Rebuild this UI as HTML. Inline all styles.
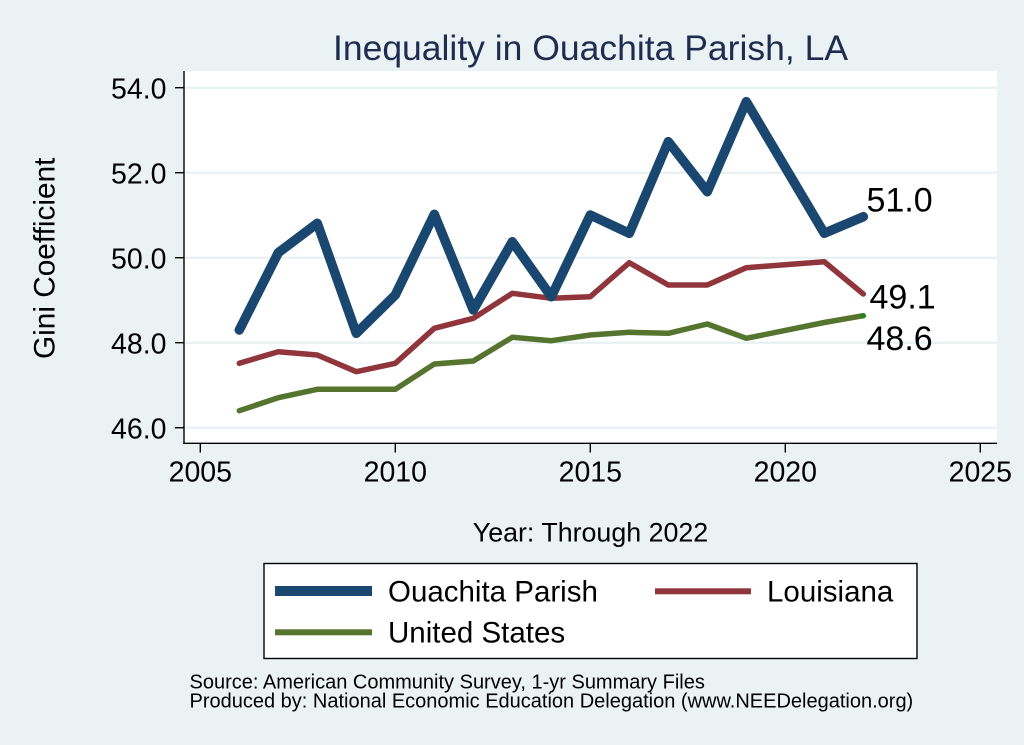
<!DOCTYPE html>
<html>
<head>
<meta charset="utf-8">
<style>
html,body{margin:0;padding:0;background:#eaf2f3;}
svg{display:block;}
text{font-family:"Liberation Sans",Arial,Helvetica,sans-serif;}
</style>
</head>
<body>
<svg width="1024" height="745" viewBox="0 0 1024 745" xmlns="http://www.w3.org/2000/svg">
  <rect x="0" y="0" width="1024" height="745" fill="#eaf2f3"/>
  <!-- plot region -->
  <rect x="184" y="71" width="813" height="372" fill="#ffffff"/>
  <!-- gridlines -->
  <g stroke="#e6eff1" stroke-width="2">
    <line x1="185" y1="87.7" x2="997" y2="87.7"/>
    <line x1="185" y1="172.7" x2="997" y2="172.7"/>
    <line x1="185" y1="257.7" x2="997" y2="257.7"/>
    <line x1="185" y1="342.7" x2="997" y2="342.7"/>
    <line x1="185" y1="427.7" x2="997" y2="427.7"/>
  </g>
  <!-- axes -->
  <g stroke="#000" stroke-width="1.4" fill="none">
    <line x1="184" y1="71" x2="184" y2="443.6"/>
    <line x1="183.3" y1="443.3" x2="997" y2="443.3"/>
    <!-- y ticks -->
    <line x1="175" y1="87.7" x2="184" y2="87.7"/>
    <line x1="175" y1="172.7" x2="184" y2="172.7"/>
    <line x1="175" y1="257.7" x2="184" y2="257.7"/>
    <line x1="175" y1="342.7" x2="184" y2="342.7"/>
    <line x1="175" y1="427.7" x2="184" y2="427.7"/>
    <!-- x ticks -->
    <line x1="200.3" y1="443" x2="200.3" y2="452.5"/>
    <line x1="395.3" y1="443" x2="395.3" y2="452.5"/>
    <line x1="590.3" y1="443" x2="590.3" y2="452.5"/>
    <line x1="785.3" y1="443" x2="785.3" y2="452.5"/>
    <line x1="980.3" y1="443" x2="980.3" y2="452.5"/>
  </g>
  <!-- y tick labels -->
  <g font-size="28.5" fill="#000" text-anchor="end">
    <text x="166.5" y="98.5">54.0</text>
    <text x="166.5" y="183.5">52.0</text>
    <text x="166.5" y="268.5">50.0</text>
    <text x="166.5" y="353.5">48.0</text>
    <text x="166.5" y="438.5">46.0</text>
  </g>
  <!-- x tick labels -->
  <g font-size="28.5" fill="#000" text-anchor="middle">
    <text x="200.3" y="481.7">2005</text>
    <text x="395.3" y="481.7">2010</text>
    <text x="590.3" y="481.7">2015</text>
    <text x="785.3" y="481.7">2020</text>
    <text x="980.3" y="481.7">2025</text>
  </g>
  <!-- axis titles -->
  <text x="590.5" y="541.7" font-size="26.8" text-anchor="middle" fill="#000">Year: Through 2022</text>
  <text transform="translate(54.5,258.3) rotate(-90)" font-size="29.8" text-anchor="middle" fill="#000">Gini Coefficient</text>
  <!-- title -->
  <text x="590.5" y="60" font-size="35.5" text-anchor="middle" fill="#1e2c50">Inequality in Ouachita Parish, LA</text>

  <!-- series -->
  <g fill="none" stroke-linejoin="round" stroke-linecap="round">
    <polyline stroke="#55752f" stroke-width="5.5" points="239.3,410.7 278.3,397.7 317.3,389.3 356.3,389.3 395.3,389.3 434.3,364 473.3,361 512.3,337.3 551.3,340.7 590.3,335 629.3,332.3 668.3,333.3 707.3,324 746.3,338.3 824.3,322.5 863.3,315.7"/>
    <polyline stroke="#90353b" stroke-width="5.5" points="239.3,363.3 278.3,351.7 317.3,355 356.3,371.7 395.3,363.3 434.3,328.3 473.3,318.3 512.3,293.3 551.3,298.3 590.3,296.7 629.3,262.7 668.3,285 707.3,285 746.3,267.7 824.3,261.7 863.3,294"/>
    <polyline stroke="#1a476f" stroke-width="9.5" points="239.3,330 278.3,252.7 317.3,223.3 356.3,333.3 395.3,295 434.3,214.3 473.3,310 512.3,241.7 551.3,296.7 590.3,215 629.3,233.3 668.3,141.7 707.3,191.7 746.3,101.7 824.3,233.3 863.3,216.7"/>
  </g>
  <circle cx="863.3" cy="315.7" r="2.6" fill="#1a8a1a"/>

  <!-- value labels -->
  <g font-size="34" fill="#000">
    <text x="866.5" y="211.7">51.0</text>
    <text x="869.5" y="308.3">49.1</text>
    <text x="866.5" y="350">48.6</text>
  </g>

  <!-- legend -->
  <rect x="264" y="563.5" width="653" height="95" fill="#ffffff" stroke="#000" stroke-width="1.4"/>
  <rect x="275" y="586" width="97" height="10" fill="#1a476f"/>
  <rect x="655" y="588.3" width="96" height="6" fill="#90353b"/>
  <rect x="275" y="629.3" width="97" height="6" fill="#55752f"/>
  <g font-size="29.5" fill="#000">
    <text x="388" y="601.7">Ouachita Parish</text>
    <text x="767" y="601.7">Louisiana</text>
    <text x="388" y="642.7">United States</text>
  </g>

  <!-- footnote -->
  <g font-size="20" fill="#000">
    <text x="189.5" y="688.3">Source: American Community Survey, 1-yr Summary Files</text>
    <text x="189.5" y="707.3">Produced by: National Economic Education Delegation (www.NEEDelegation.org)</text>
  </g>
</svg>
</body>
</html>
